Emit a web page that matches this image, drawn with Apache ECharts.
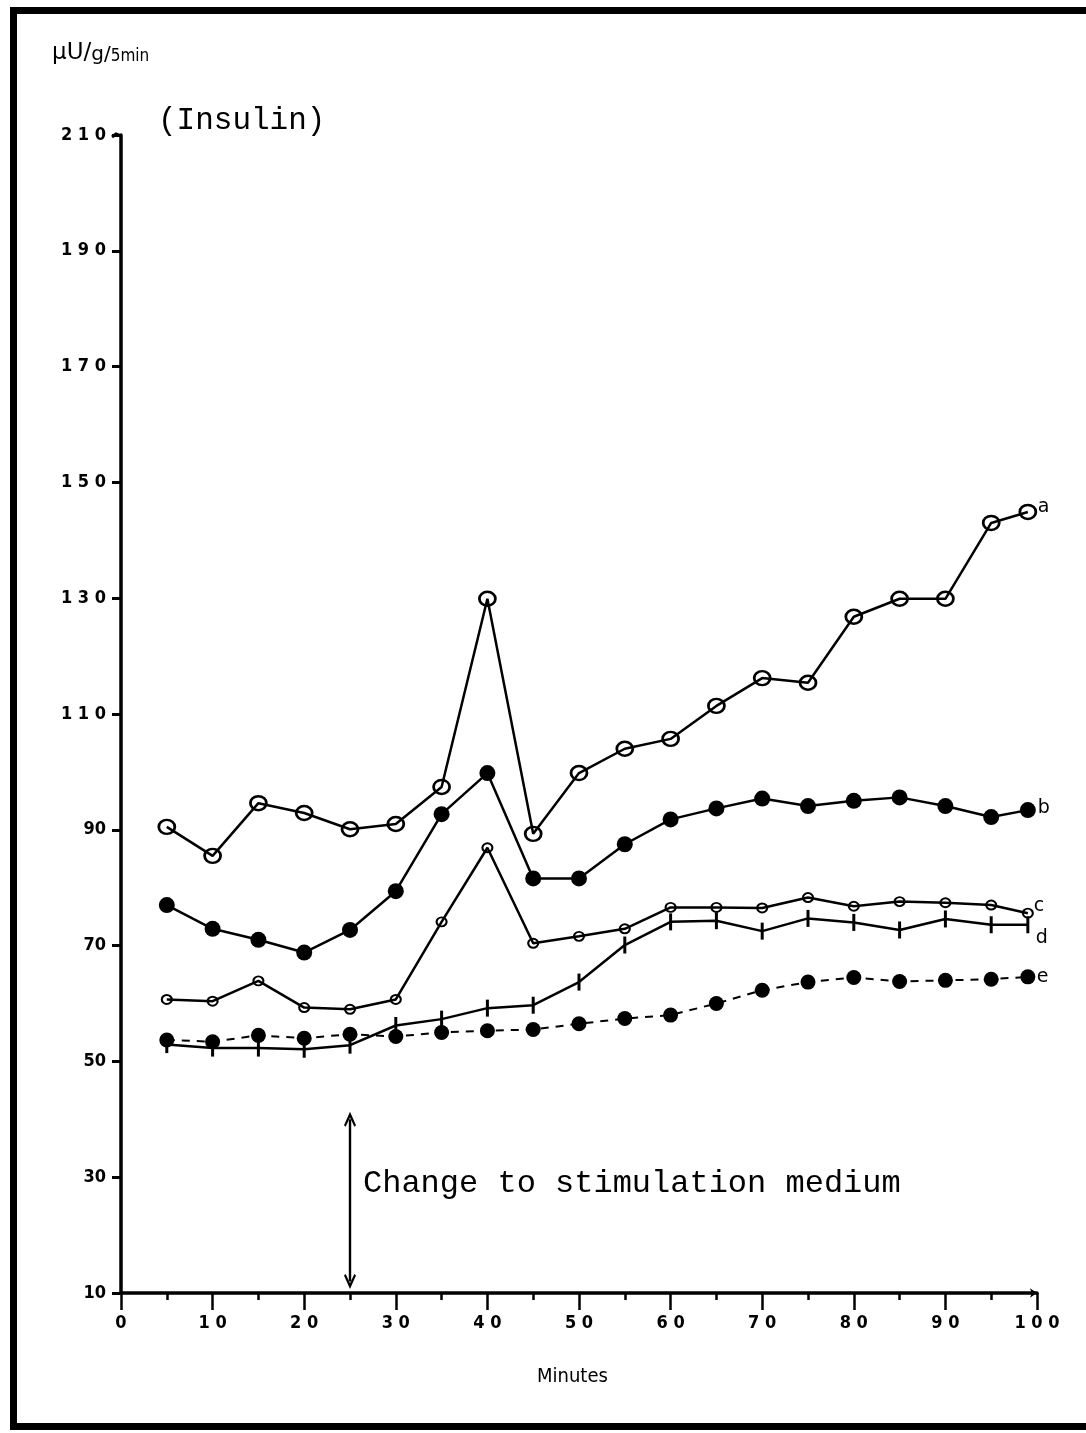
<!DOCTYPE html>
<html><head><meta charset="utf-8">
<script src="https://cdn.jsdelivr.net/npm/echarts@6/dist/echarts.min.js"></script>
<style>html,body{margin:0;padding:0;background:#fff;} #c{width:1086px;height:1433px;}</style>
</head><body><div id="c"></div>
<script>
// ---- data ----
const minutes = [5,10,15,20,25,30,35,40,45,50,55,60,65,70,75,80,85,90,95,99];
const seriesA = [90.5,85.5,94.6,92.9,90.1,91.0,97.4,129.9,89.3,99.8,104.0,105.7,111.4,116.2,115.4,126.8,129.9,129.9,143.0,144.9];
const seriesB = [77.0,72.9,71.0,68.8,72.7,79.4,92.7,99.8,81.6,81.6,87.5,91.8,93.7,95.4,94.1,95.0,95.6,94.1,92.2,93.4];
const seriesC = [60.7,60.4,63.9,59.3,59.0,60.7,74.1,86.9,70.4,71.6,72.9,76.6,76.6,76.5,78.3,76.8,77.6,77.4,77.0,75.6];
const seriesD = [52.9,52.3,52.3,52.1,52.8,56.2,57.3,59.2,59.7,63.7,70.1,74.1,74.3,72.5,74.7,74.0,72.7,74.6,73.6,73.6];
const seriesE = [53.7,53.4,54.5,54.0,54.7,54.3,55.0,55.3,55.5,56.5,57.4,58.0,60.0,62.3,63.7,64.5,63.8,64.0,64.2,64.6];
const seriesNames = ['a','b','c','d','e'];
const yTickValues = [10,30,50,70,90,110,130,150,170,190,210];
const yTickLabels = ['10','30','50','70','90','1 1 0','1 3 0','1 5 0','1 7 0','1 9 0','2 1 0'];
const xTickValues = [0,10,20,30,40,50,60,70,80,90,100];
const xTickLabels = ['0','1 0','2 0','3 0','4 0','5 0','6 0','7 0','8 0','9 0','1 0 0'];
const stimulationTime = 25;
const arrowRange = [12, 40];
const yUnit = 'μU/g/5min';
const yTitle = '(Insulin)';
const xTitle = 'Minutes';
const annotation = 'Change to stimulation medium';

const FONT = '"DejaVu Sans Condensed", "Liberation Sans Narrow", "DejaVu Sans", sans-serif';
const MONO = '"Liberation Mono", "DejaVu Sans Mono", monospace';

const pairs = arr => arr.map((v, i) => [minutes[i], v]);

const chart = echarts.init(document.getElementById('c'), null, {renderer: 'canvas'});

const baseLine = {type: 'line', silent: true, animation: false, clip: false};
const endLbl = (name, off) => ({show: true, formatter: name, color: '#000', fontFamily: '"DejaVu Sans", sans-serif', fontSize: 19, offset: off, distance: 3});

const chevron = 'path://M5,0 L10,11 L8.6,12.2 L5,4.6 L1.4,12.2 L0,11 Z';

const option = {
  backgroundColor: '#fff',
  animation: false,
  grid: {left: 121, right: 49, top: 135, bottom: 140, containLabel: false},
  xAxis: {
    type: 'value', min: 0, max: 100, interval: 10,
    axisLine: {show: true, lineStyle: {color: '#000', width: 3.5}, symbol: ['none', 'arrow'], symbolSize: [7, 7]},
    axisTick: {show: true, length: 17, lineStyle: {color: '#000', width: 2.5}},
    minorTick: {show: true, splitNumber: 2, length: 7, lineStyle: {color: '#000', width: 2.5}},
    splitLine: {show: false},
    axisLabel: {
      margin: 21, color: '#000', fontFamily: FONT, fontWeight: 'bold', fontSize: 18,
      formatter: v => { const i = xTickValues.indexOf(v); return i >= 0 ? xTickLabels[i] : ''; }
    }
  },
  yAxis: {
    type: 'value', min: 10, max: 210, interval: 20,
    axisLine: {show: true, lineStyle: {color: '#000', width: 3.5}},
    axisTick: {show: true, length: 9, lineStyle: {color: '#000', width: 3}},
    splitLine: {show: false},
    axisLabel: {
      margin: 15, color: '#000', fontFamily: FONT, fontWeight: 'bold', fontSize: 18,
      formatter: v => { const i = yTickValues.indexOf(v); return i >= 0 ? yTickLabels[i] : ''; }
    }
  },
  series: [
    Object.assign({}, baseLine, {
      name: seriesNames[4], data: pairs(seriesE), z: 4,
      symbol: 'circle', symbolSize: 15,
      itemStyle: {color: '#000'},
      lineStyle: {color: '#000', width: 2, type: [8, 7]},
      endLabel: endLbl(seriesNames[4], [6, 0])
    }),
    Object.assign({}, baseLine, {
      name: seriesNames[3], data: pairs(seriesD), z: 3,
      symbol: 'rect', symbolSize: [3, 17],
      itemStyle: {color: '#000'},
      lineStyle: {color: '#000', width: 2.5},
      endLabel: endLbl(seriesNames[3], [5, 13])
    }),
    Object.assign({}, baseLine, {
      name: seriesNames[2], data: pairs(seriesC), z: 5,
      symbol: 'circle', symbolSize: [10, 9],
      itemStyle: {color: 'rgba(255,255,255,0)', borderColor: '#000', borderWidth: 2},
      lineStyle: {color: '#000', width: 2.5},
      endLabel: endLbl(seriesNames[2], [3, -7])
    }),
    Object.assign({}, baseLine, {
      name: seriesNames[1], data: pairs(seriesB), z: 6,
      symbol: 'circle', symbolSize: 16,
      itemStyle: {color: '#000'},
      lineStyle: {color: '#000', width: 2.5},
      endLabel: endLbl(seriesNames[1], [7, -2])
    }),
    Object.assign({}, baseLine, {
      name: seriesNames[0], data: pairs(seriesA), z: 7,
      symbol: 'circle', symbolSize: [16, 14],
      itemStyle: {color: 'rgba(255,255,255,0)', borderColor: '#000', borderWidth: 2.6},
      lineStyle: {color: '#000', width: 2.5},
      endLabel: endLbl(seriesNames[0], [7, -5])
    }),
    {
      type: 'line', data: [], silent: true, animation: false,
      markLine: {
        silent: true, animation: false,
        symbol: [chevron, chevron], symbolSize: [12, 15],
        label: {show: false},
        lineStyle: {color: '#000', width: 2.4, type: 'solid'},
        data: [[{coord: [stimulationTime, arrowRange[0]]}, {coord: [stimulationTime, arrowRange[1]]}]]
      }
    }
  ],
  graphic: [
    // frame of the scanned figure
    {type: 'rect', silent: true, shape: {x: 10, y: 7, width: 7, height: 1423}, style: {fill: '#000'}},
    {type: 'rect', silent: true, shape: {x: 10, y: 7, width: 1076, height: 7}, style: {fill: '#000'}},
    {type: 'rect', silent: true, shape: {x: 10, y: 1423, width: 1076, height: 7}, style: {fill: '#000'}},
    // hook at top of y axis
    {type: 'polyline', silent: true, shape: {points: [[112, 137], [116, 134], [121, 136]]}, style: {stroke: '#000', lineWidth: 3, fill: null}},
    {type: 'text', silent: true, left: 52, top: 42, style: {
      text: '{u|μU/}{g|g/}{m|5min}', rich: {
        u: {fontFamily: '"DejaVu Sans", sans-serif', fontSize: 23, fill: '#000', verticalAlign: 'bottom'},
        g: {fontFamily: '"DejaVu Sans", sans-serif', fontSize: 20, fill: '#000', verticalAlign: 'bottom'},
        m: {fontFamily: FONT, fontSize: 17, fill: '#000', verticalAlign: 'bottom'}
      }
    }},
    {type: 'text', silent: true, left: 158, top: 105, style: {text: yTitle, font: '31px ' + MONO, fill: '#000'}},
    {type: 'text', silent: true, left: 363, top: 1168, style: {text: annotation, font: '32px ' + MONO, fill: '#000'}},
    {type: 'text', silent: true, left: 537, top: 1367, style: {text: xTitle, font: '20px ' + FONT, fill: '#000'}}
  ]
};
chart.setOption(option);
</script>
</body></html>
